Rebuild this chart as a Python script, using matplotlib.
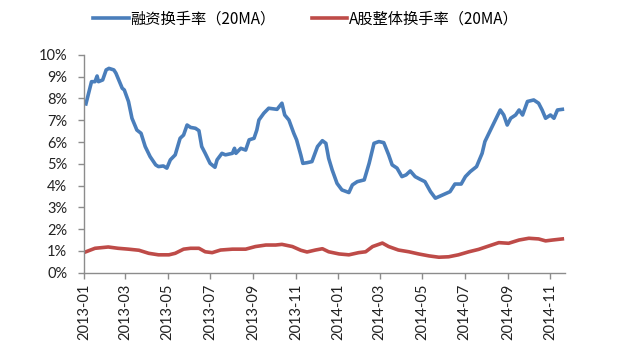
import matplotlib
matplotlib.use("Agg")
import matplotlib.pyplot as plt
import matplotlib.dates as mdates
from matplotlib.ticker import FuncFormatter, MultipleLocator
import pandas as pd

plt.rcParams['font.family'] = ['Noto Sans CJK SC', 'DejaVu Sans']

margin_dates = [
    "2013-01-04", "2013-01-12", "2013-01-17", "2013-01-20", "2013-01-22", "2013-01-28",
    "2013-02-02", "2013-02-06", "2013-02-13", "2013-02-16", "2013-02-25", "2013-02-28",
    "2013-03-06", "2013-03-11", "2013-03-18", "2013-03-24", "2013-03-30", "2013-04-06",
    "2013-04-14", "2013-04-18", "2013-04-25", "2013-04-30", "2013-05-05", "2013-05-12",
    "2013-05-19", "2013-05-24", "2013-05-29", "2013-06-03", "2013-06-10", "2013-06-15",
    "2013-06-19", "2013-06-24", "2013-07-01", "2013-07-08", "2013-07-11", "2013-07-18",
    "2013-07-23", "2013-08-02", "2013-08-05", "2013-08-07", "2013-08-14", "2013-08-21",
    "2013-08-26", "2013-09-02", "2013-09-06", "2013-09-09", "2013-09-16", "2013-09-23",
    "2013-10-05", "2013-10-12", "2013-10-16", "2013-10-22", "2013-10-29", "2013-11-02",
    "2013-11-08", "2013-11-11", "2013-11-17", "2013-11-24", "2013-12-02", "2013-12-09",
    "2013-12-14", "2013-12-18", "2013-12-23", "2013-12-30", "2014-01-06", "2014-01-16",
    "2014-01-21", "2014-01-28", "2014-02-07", "2014-02-14", "2014-02-21", "2014-02-28",
    "2014-03-07", "2014-03-14", "2014-03-19", "2014-03-26", "2014-04-02", "2014-04-08",
    "2014-04-14", "2014-04-21", "2014-04-28", "2014-05-05", "2014-05-13", "2014-05-20",
    "2014-05-27", "2014-06-03", "2014-06-10", "2014-06-17", "2014-06-26", "2014-07-02",
    "2014-07-09", "2014-07-18", "2014-07-26", "2014-07-30", "2014-08-07", "2014-08-14",
    "2014-08-21", "2014-08-26", "2014-08-31", "2014-09-05", "2014-09-12", "2014-09-17",
    "2014-09-22", "2014-09-29", "2014-10-08", "2014-10-15", "2014-10-20", "2014-10-25",
    "2014-11-01", "2014-11-06", "2014-11-11", "2014-11-18",
]
margin_turnover = [
    7.75, 8.77, 8.77, 9.03, 8.77, 8.85,
    9.31, 9.38, 9.31, 9.16, 8.47, 8.39,
    7.86, 7.09, 6.55, 6.40, 5.79, 5.33,
    4.95, 4.87, 4.90, 4.80, 5.18, 5.41,
    6.17, 6.32, 6.78, 6.67, 6.63, 6.52,
    5.79, 5.48, 5.02, 4.84, 5.18, 5.48,
    5.41, 5.48, 5.71, 5.48, 5.71, 5.63,
    6.10, 6.17, 6.55, 7.01, 7.32, 7.55,
    7.50, 7.78, 7.24, 7.01, 6.40, 6.10,
    5.41, 5.02, 5.05, 5.10, 5.79, 6.06,
    5.94, 5.25, 4.72, 4.10, 3.80, 3.68,
    4.03, 4.18, 4.26, 5.02, 5.94, 6.02,
    5.97, 5.41, 4.95, 4.80, 4.41, 4.49,
    4.67, 4.41, 4.29, 4.18, 3.72, 3.42,
    3.52, 3.62, 3.72, 4.07, 4.07, 4.41,
    4.64, 4.87, 5.48, 6.02, 6.55, 7.01,
    7.47, 7.24, 6.78, 7.09, 7.24, 7.47,
    7.24, 7.86, 7.93, 7.78, 7.47, 7.09,
    7.24, 7.09, 7.47, 7.50,
]

market_dates = [
    "2013-01-04", "2013-01-17", "2013-02-05", "2013-02-19", "2013-03-06", "2013-03-21",
    "2013-04-04", "2013-04-18", "2013-05-03", "2013-05-12", "2013-05-24", "2013-06-03",
    "2013-06-15", "2013-06-24", "2013-07-04", "2013-07-16", "2013-08-02", "2013-08-21",
    "2013-09-04", "2013-09-19", "2013-10-03", "2013-10-12", "2013-10-27", "2013-11-08",
    "2013-11-17", "2013-11-29", "2013-12-09", "2013-12-18", "2014-01-02", "2014-01-16",
    "2014-01-30", "2014-02-09", "2014-02-19", "2014-03-05", "2014-03-14", "2014-03-28",
    "2014-04-12", "2014-04-26", "2014-05-11", "2014-05-25", "2014-06-08", "2014-06-22",
    "2014-07-07", "2014-07-21", "2014-08-04", "2014-08-19", "2014-09-02", "2014-09-17",
    "2014-10-01", "2014-10-15", "2014-10-25", "2014-11-04", "2014-11-18",
]
market_turnover = [
    0.96, 1.12, 1.18, 1.12, 1.08, 1.03,
    0.89, 0.82, 0.82, 0.89, 1.08, 1.12,
    1.12, 0.96, 0.92, 1.04, 1.08, 1.08,
    1.20, 1.27, 1.27, 1.30, 1.20, 1.03,
    0.95, 1.04, 1.10, 0.96, 0.86, 0.82,
    0.92, 0.96, 1.20, 1.36, 1.20, 1.04,
    0.96, 0.86, 0.77, 0.71, 0.73, 0.82,
    0.96, 1.07, 1.22, 1.38, 1.35, 1.50,
    1.58, 1.55, 1.46, 1.50, 1.55,
]

series_labels = ["融资换手率（20MA）", "A股整体换手率（20MA）"]
tick_months = pd.date_range("2013-01-01", "2014-11-01", freq="2MS")

fig = plt.figure(figsize=(6.4, 3.43), dpi=100)
ax = fig.add_axes([0.131, 0.205, 0.752, 0.635])

blue = "#4A7EBB"
red = "#BE4B48"
ax.plot(pd.to_datetime(margin_dates), margin_turnover, color=blue, lw=2.6,
        solid_joinstyle="round", label=series_labels[0])
ax.plot(pd.to_datetime(market_dates), market_turnover, color=red, lw=2.6,
        solid_joinstyle="round", label=series_labels[1])

ax.set_ylim(0, 10)
ax.yaxis.set_major_locator(MultipleLocator(1))
ax.yaxis.set_major_formatter(FuncFormatter(lambda v, p: f"{v:.0f}%"))
ax.set_xlim(pd.Timestamp("2013-01-01"), pd.Timestamp("2014-11-22"))
ax.set_xticks(tick_months)
ax.xaxis.set_major_formatter(mdates.DateFormatter("%Y-%m"))

axis_grey = "#8C8C8C"
for side in ("top", "right"):
    ax.spines[side].set_visible(False)
for side in ("left", "bottom"):
    ax.spines[side].set_color(axis_grey)
    ax.spines[side].set_linewidth(1.0)
ax.tick_params(axis="both", colors=axis_grey, labelcolor="#222222",
               direction="out", length=4, width=1.0)
ax.tick_params(axis="y", pad=8)
ax.tick_params(axis="x", pad=4)

for lbl in ax.get_yticklabels():
    lbl.set_fontfamily(["Lato", "DejaVu Sans"])
    lbl.set_fontsize(10.5)
for lbl in ax.get_xticklabels():
    lbl.set_fontfamily(["Lato", "DejaVu Sans"])
    lbl.set_fontsize(10.5)
    lbl.set_rotation(90)

fig.legend(loc="center", bbox_to_anchor=(0.478, 0.945), ncol=2,
           frameon=False, fontsize=11, handlelength=2.3, handletextpad=0.1,
           columnspacing=2.4)

fig.savefig("out.png", dpi=100)
